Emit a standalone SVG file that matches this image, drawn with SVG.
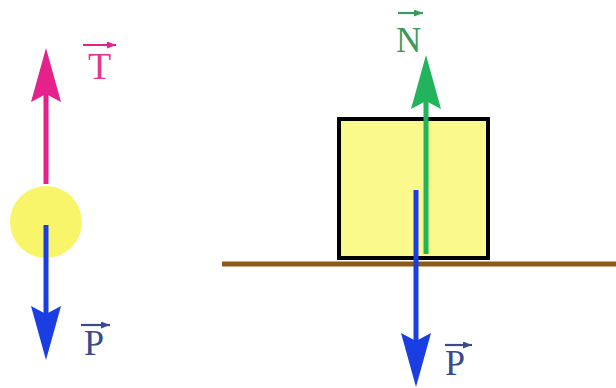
<svg xmlns="http://www.w3.org/2000/svg" width="616" height="388" viewBox="0 0 616 388">
<style>
.lbl{font-family:"Liberation Serif","DejaVu Serif",serif;font-size:36px}
.vec{fill:none;stroke-width:2.2}
.force{stroke-width:5;fill:none}
</style>
<defs>
<marker id="hPink" viewBox="-8 -16 56 32" refX="0" refY="0" markerWidth="56" markerHeight="32" markerUnits="userSpaceOnUse" orient="auto"><path d="M0,0 L-8,-15 L46,0 L-8,15 Z" fill="#e5218c"/></marker>
<marker id="hBlue" viewBox="-8 -16 56 32" refX="0" refY="0" markerWidth="56" markerHeight="32" markerUnits="userSpaceOnUse" orient="auto"><path d="M0,0 L-8,-15 L46,0 L-8,15 Z" fill="#1b3ee3"/></marker>
<marker id="hGreen" viewBox="-8 -16 56 32" refX="0" refY="0" markerWidth="56" markerHeight="32" markerUnits="userSpaceOnUse" orient="auto"><path d="M0,0 L-8,-15 L46,0 L-8,15 Z" fill="#21b45c"/></marker>
<marker id="vh" viewBox="0 -3.5 9 7" refX="9" refY="0" markerWidth="9" markerHeight="7" markerUnits="userSpaceOnUse" orient="auto"><path d="M0,-3.5 L9,0 L0,3.5 Z" fill="context-stroke"/></marker>
</defs>
<rect width="616" height="388" fill="#ffffff"/>
<g id="ground"><line x1="222" y1="264" x2="616" y2="264" stroke="#8d5a17" stroke-width="5"/></g>
<g id="ball"><circle cx="46" cy="222" r="36" fill="#f9f56a"/></g>
<g id="block"><rect x="339" y="119" width="149" height="139" fill="#fafa8c" stroke="#000" stroke-width="4"/></g>
<g id="connectors">
<line class="force" x1="46" y1="184" x2="46" y2="94" stroke="#e5218c" marker-end="url(#hPink)"/>
<line class="force" x1="46" y1="225" x2="46" y2="314" stroke="#1b3ee3" marker-end="url(#hBlue)"/>
<line class="force" x1="426" y1="254" x2="426" y2="101" stroke="#21b45c" marker-end="url(#hGreen)"/>
<line class="force" x1="416" y1="190" x2="416" y2="341" stroke="#1b3ee3" marker-end="url(#hBlue)"/>
</g>
<g id="labelT"><line class="vec" x1="83" y1="45" x2="116" y2="45" stroke="#e5218c" marker-end="url(#vh)"/><text class="lbl" x="88" y="79" fill="#e3398d" style="font-size:38px">T</text></g>
<g id="labelP1"><line class="vec" x1="81" y1="325" x2="110" y2="325" stroke="#3b4a8c" marker-end="url(#vh)"/><text class="lbl" x="84" y="355" fill="#3b4a8c">P</text></g>
<g id="labelN"><line class="vec" x1="398" y1="13" x2="423" y2="13" stroke="#3a9a5a" marker-end="url(#vh)"/><text class="lbl" x="396" y="52" fill="#3a9a5a" style="font-size:35px">N</text></g>
<g id="labelP2"><line class="vec" x1="445" y1="345" x2="472" y2="345" stroke="#3b4a8c" marker-end="url(#vh)"/><text class="lbl" x="445" y="375" fill="#3b4a8c">P</text></g>
</svg>
